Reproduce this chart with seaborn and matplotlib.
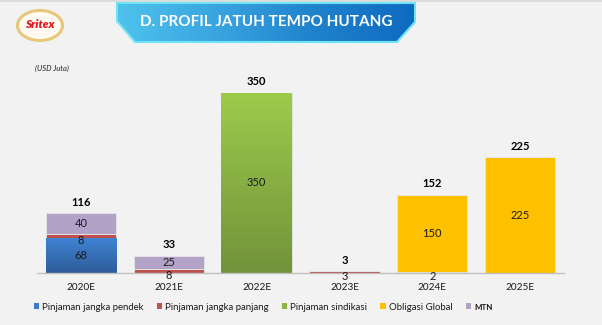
import numpy as np
import pandas as pd
import matplotlib
matplotlib.use("Agg")
import matplotlib.pyplot as plt
from matplotlib.patches import Polygon, Ellipse, Patch
from matplotlib.colors import LinearSegmentedColormap
import seaborn as sns

# ---- data ----
years = ["2020E", "2021E", "2022E", "2023E", "2024E", "2025E"]
pendek = [68, 0, 0, 0, 0, 0]        # Pinjaman jangka pendek
panjang = [8, 8, 0, 3, 2, 0]        # Pinjaman jangka panjang
sindikasi = [0, 0, 350, 0, 0, 0]    # Pinjaman sindikasi
obligasi = [0, 0, 0, 0, 150, 225]   # Obligasi Global
mtn = [40, 25, 0, 0, 0, 0]          # MTN
series_names = ["Pinjaman jangka pendek", "Pinjaman jangka panjang",
                "Pinjaman sindikasi", "Obligasi Global", "MTN"]
title = "D. PROFIL JATUH TEMPO HUTANG"
unit = "(USD Juta)"

sns.set_theme(style="white")
plt.rcParams["font.family"] = ["Lato", "DejaVu Sans"]

BG = "#f2f2f2"
colors = ["#3a78c8", "#c0504d", "#8db544", "#ffc000", "#b3a2c7"]

fig = plt.figure(figsize=(6.02, 3.25), dpi=100, facecolor=BG)

# decoration layer in pixel coords
deco = fig.add_axes([0, 0, 1, 1], zorder=0)
deco.set_xlim(0, 602)
deco.set_ylim(325, 0)
deco.axis("off")
deco.set_facecolor(BG)
deco.add_patch(plt.Rectangle((0, 0), 602, 1.5, color="#dcdcdc", lw=0))

# title banner
banner_pts = [(117, 3), (415, 3), (415, 22), (397, 42), (135, 42), (117, 21)]
banner = Polygon(banner_pts, closed=True, facecolor="none", edgecolor="#6fe4f7", lw=1.5, zorder=3)
deco.add_patch(banner)
grad = np.linspace(0, 1, 256).reshape(1, -1)
cmap_b = LinearSegmentedColormap.from_list("b", ["#4ec3ec", "#3aa4e0", "#1f82cc", "#0e6ac0"])
im = deco.imshow(grad, extent=(117, 415, 42, 3), cmap=cmap_b, aspect="auto", zorder=2)
clip = Polygon(banner_pts, closed=True, transform=deco.transData)
im.set_clip_path(clip)
deco.text(266, 22.5, title, color="white", fontsize=11, fontweight="bold",
          ha="center", va="center", zorder=4)
deco.set_xlim(0, 602)
deco.set_ylim(325, 0)

# logo
deco.add_patch(Ellipse((40, 25.5), 45, 30, facecolor="#fffaf2", edgecolor="#e8c77a", lw=2.2, zorder=2))
deco.text(40, 25, "Sritex", color="#e2151f", fontsize=8.5, fontweight="heavy",
          fontstyle="italic", ha="center", va="center", zorder=3)

deco.text(35, 68, unit, fontsize=5.5, fontstyle="italic", color="#222222",
          ha="left", va="center")

# ---- chart ----
ax = fig.add_axes([37 / 602, (325 - 273) / 325, (564 - 37) / 602, (273 - 80) / 325], zorder=1)
ax.set_facecolor("none")

df = pd.DataFrame({"year": years, "pendek": pendek, "panjang": panjang,
                   "sindikasi": sindikasi, "obligasi": obligasi, "mtn": mtn})
cols = ["pendek", "panjang", "sindikasi", "obligasi", "mtn"]
bottom = np.zeros(len(years))
containers = []
for col, c in zip(cols, colors):
    sns.barplot(data=df, x="year", y=col, bottom=bottom.copy(), color=c, width=0.8,
                saturation=1, errorbar=None, ax=ax, edgecolor="#e6e6e6", linewidth=0.6)
    containers.append((col, ax.containers[-1], bottom.copy()))
    bottom = bottom + df[col].to_numpy()

ymax = 350 * (273 - 80) / 180
ax.set_xlim(-0.5, 5.5)
ax.set_ylim(0, ymax)

# gradients for blue and green bars
grads = {"pendek": ["#2e5c98", "#3f83d4"], "sindikasi": ["#72933a", "#9ccb4c"]}
vgrad = np.linspace(0, 1, 256).reshape(-1, 1)
for col, cont, _ in containers:
    if col in grads:
        cm = LinearSegmentedColormap.from_list(col, grads[col])
        for p in cont.patches:
            if p.get_height() <= 0:
                continue
            x0, y0 = p.get_x(), p.get_y()
            w, h = p.get_width(), p.get_height()
            g = ax.imshow(vgrad, extent=(x0, x0 + w, y0, y0 + h), origin="lower",
                          cmap=cm, aspect="auto", zorder=p.get_zorder() + 0.1)
            g.set_clip_path(p)
ax.set_xlim(-0.5, 5.5)
ax.set_ylim(0, ymax)

# segment labels
for col, cont, bot in containers:
    vals = df[col].to_numpy()
    for i, v in enumerate(vals):
        if v > 0:
            off = -3.0 if v < 10 else 0
            ax.annotate(f"{v}", (i, bot[i] + v / 2), xytext=(0, off), textcoords="offset points",
                        ha="center", va="center", fontsize=8, color="#1a1a1a", zorder=5)

# total labels
totals = bottom
for i, t in enumerate(totals):
    ax.annotate(f"{int(t)}", (i, t), xytext=(0, 4), textcoords="offset points",
                ha="center", va="bottom", fontsize=8, fontweight="bold", color="black")

# axes styling
for s in ["top", "right", "left"]:
    ax.spines[s].set_visible(False)
ax.spines["bottom"].set_color("#bfbfbf")
ax.spines["bottom"].set_linewidth(1)
ax.set_yticks([])
ax.set_xlabel("")
ax.set_ylabel("")
ax.set_xticks(range(len(years)))
ax.set_xticklabels(years, fontsize=7.2, color="#1a1a1a")
ax.tick_params(axis="x", which="major", length=0, pad=7)
ax.set_xticks(np.arange(-0.5, len(years), 1.0), minor=True)
ax.tick_params(axis="x", which="minor", length=3.5, color="#bfbfbf", width=0.8, direction="out")

# legend
handles = [Patch(facecolor=c, edgecolor="none") for c in colors]
leg = fig.legend(handles, series_names, loc="center", bbox_to_anchor=(0.437, 1 - 307 / 325),
                 ncol=5, frameon=False, fontsize=6.9, handlelength=0.55, handleheight=0.55,
                 handletextpad=0.35, columnspacing=1.35, borderaxespad=0)
for t in leg.get_texts():
    t.set_color("#1a1a1a")
leg.get_texts()[-1].set_fontweight("bold")
leg.get_texts()[-1].set_fontsize(5.8)

fig.savefig("out.png", dpi=100, facecolor=BG)
